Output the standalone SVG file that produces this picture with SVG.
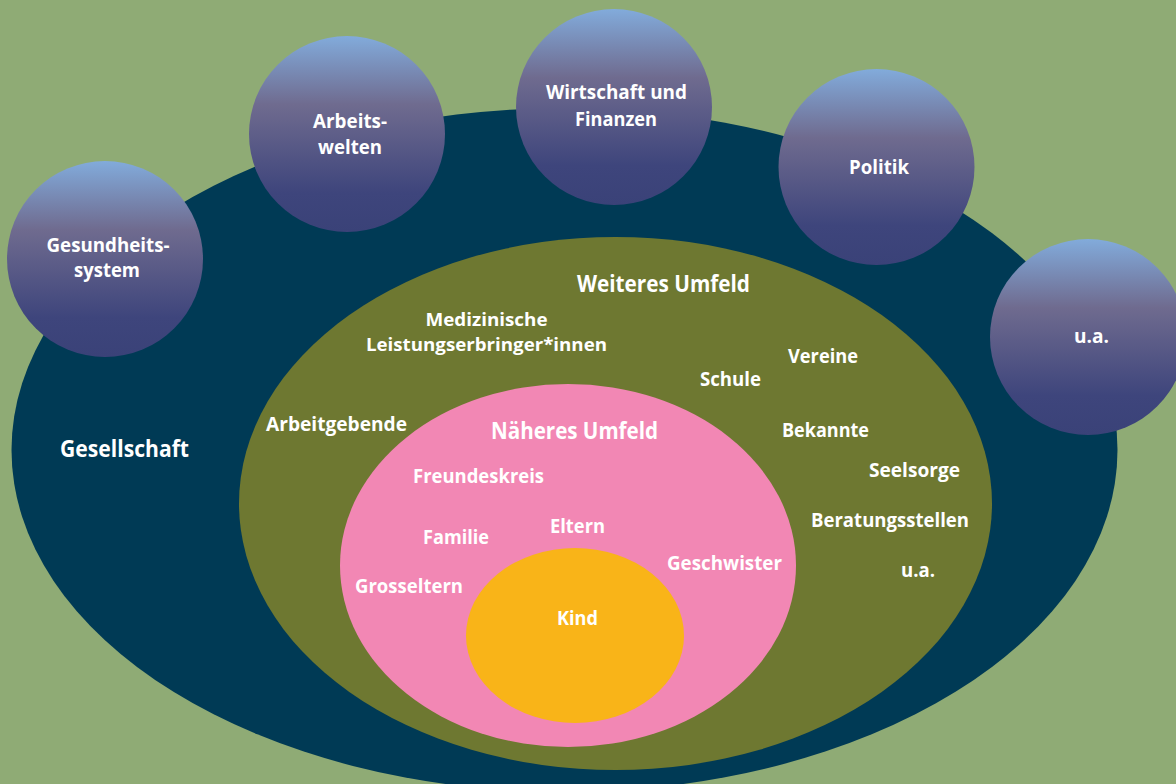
<svg xmlns="http://www.w3.org/2000/svg" width="1176" height="784" viewBox="0 0 1176 784">
<defs>
<linearGradient id="orb" x1="0" y1="0" x2="0" y2="1">
<stop offset="0" stop-color="#82abdb"/>
<stop offset="0.35" stop-color="#6f6b8f"/>
<stop offset="0.8" stop-color="#3e457c"/>
<stop offset="1" stop-color="#3a4278"/>
</linearGradient>
<style>
text{font-family:"Open Sans","DejaVu Sans",sans-serif;font-weight:700;fill:#ffffff;text-anchor:middle}
.s{font-size:20px}
.m{font-size:18px}
.t{font-size:23px}
.orb{fill:url(#orb)}
</style>
</defs>
<rect width="1176" height="784" fill="#8fab75"/>
<g id="gesellschaft">
<ellipse cx="564.5" cy="450" rx="553" ry="342" fill="#003a55"/>
<text class="t" x="124.5" y="457" textLength="129" lengthAdjust="spacingAndGlyphs">Gesellschaft</text>
</g>
<g id="weiteres-umfeld">
<ellipse cx="615.5" cy="503.5" rx="376.5" ry="266.5" fill="#6e7831"/>
<text class="t" x="663.5" y="292" textLength="173" lengthAdjust="spacingAndGlyphs">Weiteres Umfeld</text>
<text class="m" x="486.5" y="326" textLength="122" lengthAdjust="spacingAndGlyphs">Medizinische</text>
<text class="m" x="486.5" y="351" textLength="241" lengthAdjust="spacingAndGlyphs">Leistungserbringer*innen</text>
<text class="s" x="730.5" y="386" textLength="61" lengthAdjust="spacingAndGlyphs">Schule</text>
<text class="s" x="823" y="363" textLength="70" lengthAdjust="spacingAndGlyphs">Vereine</text>
<text class="s" x="336.5" y="431" textLength="141" lengthAdjust="spacingAndGlyphs">Arbeitgebende</text>
<text class="s" x="825.5" y="437" textLength="87" lengthAdjust="spacingAndGlyphs">Bekannte</text>
<text class="s" x="914.5" y="477" textLength="91" lengthAdjust="spacingAndGlyphs">Seelsorge</text>
<text class="s" x="890" y="527" textLength="158" lengthAdjust="spacingAndGlyphs">Beratungsstellen</text>
<text class="s" x="918" y="577" textLength="34" lengthAdjust="spacingAndGlyphs">u.a.</text>
</g>
<g id="naeheres-umfeld">
<ellipse cx="568" cy="565.5" rx="228" ry="181.5" fill="#f287b4"/>
<text class="t" x="574.5" y="439" textLength="167" lengthAdjust="spacingAndGlyphs">Näheres Umfeld</text>
<text class="s" x="478.5" y="483" textLength="131" lengthAdjust="spacingAndGlyphs">Freundeskreis</text>
<text class="s" x="577.5" y="533" textLength="55" lengthAdjust="spacingAndGlyphs">Eltern</text>
<text class="s" x="456" y="544" textLength="66" lengthAdjust="spacingAndGlyphs">Familie</text>
<text class="s" x="724.5" y="570" textLength="115" lengthAdjust="spacingAndGlyphs">Geschwister</text>
<text class="s" x="409" y="593" textLength="108" lengthAdjust="spacingAndGlyphs">Grosseltern</text>
</g>
<g id="kind">
<ellipse cx="575" cy="635.5" rx="109" ry="87.5" fill="#f9b418"/>
<text class="s" x="577.5" y="625" textLength="41" lengthAdjust="spacingAndGlyphs">Kind</text>
</g>
<g id="connectors"/>
<g id="gesundheitssystem">
<circle class="orb" cx="105" cy="259" r="98"/>
<text class="s" x="108" y="252" textLength="123" lengthAdjust="spacingAndGlyphs">Gesundheits-</text>
<text class="s" x="107" y="277" textLength="66" lengthAdjust="spacingAndGlyphs">system</text>
</g>
<g id="arbeitswelten">
<circle class="orb" cx="347" cy="134" r="98"/>
<text class="s" x="350" y="128" textLength="74" lengthAdjust="spacingAndGlyphs">Arbeits-</text>
<text class="s" x="350" y="154" textLength="64" lengthAdjust="spacingAndGlyphs">welten</text>
</g>
<g id="wirtschaft">
<circle class="orb" cx="614" cy="107" r="98"/>
<text class="s" x="616.5" y="99" textLength="141" lengthAdjust="spacingAndGlyphs">Wirtschaft und</text>
<text class="s" x="616" y="126" textLength="82" lengthAdjust="spacingAndGlyphs">Finanzen</text>
</g>
<g id="politik">
<circle class="orb" cx="876.5" cy="167" r="98"/>
<text class="s" x="879" y="174" textLength="60" lengthAdjust="spacingAndGlyphs">Politik</text>
</g>
<g id="ua">
<circle class="orb" cx="1088" cy="337" r="98"/>
<text class="s" x="1091.5" y="343" textLength="35" lengthAdjust="spacingAndGlyphs">u.a.</text>
</g>
</svg>
